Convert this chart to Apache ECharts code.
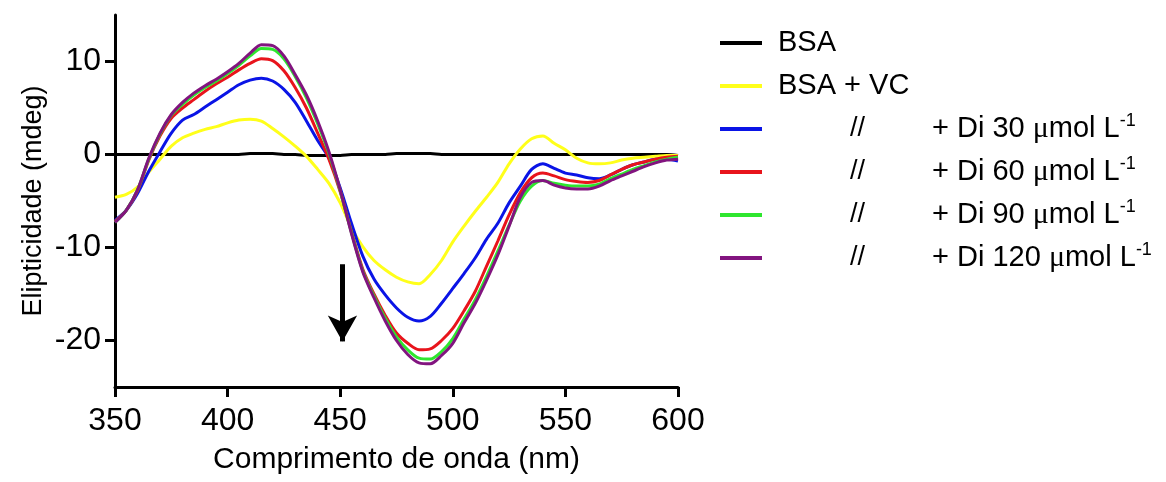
<!DOCTYPE html>
<html>
<head>
<meta charset="utf-8">
<script src="https://cdn.jsdelivr.net/npm/echarts@6/dist/echarts.min.js"></script>
<style>
	html, body { margin: 0; padding: 0; background: #fff; }
	#cd-chart { width: 1166px; height: 482px; }
</style>
</head>
<body>
<div id="cd-chart"></div>
<script>
var wavelength = [350, 355, 360, 365, 370, 375, 380, 385, 390, 395, 400, 405, 410, 415, 420, 425, 430, 435, 440, 445, 450, 455, 460, 465, 470, 475, 480, 485, 490, 495, 500, 505, 510, 515, 520, 525, 530, 535, 540, 545, 550, 555, 560, 565, 570, 575, 580, 585, 590, 595, 600];

var bsa = [0, 0, 0, 0, 0, 0, 0, 0, 0, 0, 0, 0, 0.1, 0.1, 0.1, 0, 0, -0.1, -0.1, -0.1, -0.1, 0, 0, 0, 0, 0.1, 0.1, 0.1, 0.1, 0, 0, 0, 0, 0, 0, 0, 0, 0, 0, 0, 0, 0, 0, 0, 0, 0, 0, 0, 0, 0, -0.1];
var bsaVc = [-4.6, -4.3, -3.5, -1.9, -0.5, 0.9, 1.8, 2.3, 2.7, 3.0, 3.4, 3.7, 3.8, 3.6, 2.8, 1.9, 0.9, -0.2, -1.6, -3.1, -5.2, -7.9, -9.9, -11.4, -12.4, -13.2, -13.7, -13.9, -12.9, -11.4, -9.4, -7.7, -6.1, -4.6, -3.0, -1.0, 0.6, 1.7, 2.0, 1.2, 0.5, -0.4, -0.9, -1.0, -0.9, -0.6, -0.4, -0.3, -0.2, -0.1, -0.1];
var di30 = [-7.1, -6.0, -4.2, -1.8, 0.3, 2.3, 3.7, 4.3, 5.1, 5.9, 6.7, 7.5, 8.0, 8.2, 7.9, 7.0, 5.6, 3.6, 1.5, -0.4, -3.6, -7.4, -10.9, -13.4, -15.1, -16.5, -17.5, -17.9, -17.4, -16.0, -14.4, -12.8, -11.1, -9.1, -7.4, -5.2, -3.4, -1.6, -1.0, -1.5, -2.0, -2.2, -2.5, -2.6, -2.2, -1.6, -1.1, -0.8, -0.5, -0.5, -0.7];
var di60 = [-7.2, -6.0, -3.9, -0.6, 2.0, 3.9, 5.0, 5.9, 6.8, 7.6, 8.3, 9.1, 9.8, 10.3, 10.1, 9.0, 7.2, 5.0, 2.3, -0.5, -4.0, -8.3, -12.3, -15.0, -17.3, -19.2, -20.3, -21.0, -20.9, -20.0, -18.7, -16.8, -14.7, -12.0, -9.3, -6.5, -4.1, -2.5, -2.0, -2.3, -2.7, -2.9, -3.0, -2.8, -2.2, -1.6, -1.1, -0.8, -0.5, -0.3, -0.2];
var di90 = [-7.3, -6.0, -3.8, -0.5, 2.2, 4.2, 5.4, 6.4, 7.2, 7.9, 8.7, 9.6, 10.6, 11.4, 11.3, 10.3, 8.4, 6.1, 3.3, 0.1, -3.9, -8.4, -12.5, -15.2, -17.6, -19.6, -21.0, -21.9, -22.0, -21.2, -19.8, -17.7, -15.6, -13.1, -10.4, -7.6, -5.0, -3.4, -2.8, -3.1, -3.3, -3.4, -3.4, -3.2, -2.6, -2.1, -1.6, -1.2, -0.8, -0.5, -0.3];
var di120 = [-7.3, -6.0, -3.8, -0.4, 2.3, 4.3, 5.6, 6.6, 7.4, 8.1, 8.9, 9.8, 10.9, 11.8, 11.7, 10.6, 8.6, 6.4, 3.6, 0.3, -3.8, -8.5, -12.6, -15.4, -17.9, -20.0, -21.5, -22.4, -22.5, -21.6, -20.3, -18.1, -16.0, -13.5, -10.8, -7.7, -4.6, -3.0, -2.8, -3.3, -3.6, -3.7, -3.7, -3.4, -2.8, -2.3, -1.8, -1.3, -0.9, -0.6, -0.5];

var xTicks = [350, 400, 450, 500, 550, 600];
var yTicks = [-20, -10, 0, 10];

// arrow pointing down, in data units
var arrowX = 451;
var arrowFrom = -11.8;
var arrowTo = -20.1;

var names = ['BSA', 'BSA + VC', 'Di 30', 'Di 60', 'Di 90', 'Di 120'];
var colors = ['#000000', '#ffff1a', '#0a14e6', '#e8141c', '#2ee62e', '#82147f'];
var values = [bsa, bsaVc, di30, di60, di90, di120];

function pairs(arr) {
	var out = [];
	for (var i = 0; i < wavelength.length; i++) {
		out.push([wavelength[i], arr[i]]);
	}
	return out;
}

var series = [];
for (var s = 0; s < names.length; s++) {
	var item = {
		name: names[s],
		type: 'line',
		data: pairs(values[s]),
		smooth: 0.3,
		showSymbol: false,
		symbol: 'none',
		color: colors[s],
		lineStyle: { color: colors[s], width: 3 },
		z: 2 + s
	};
	if (s === 0) {
		item.markLine = {
			silent: true,
			symbol: ['none', 'arrow'],
			symbolSize: [22, 26],
			lineStyle: { color: '#000', width: 5, type: 'solid' },
			label: { show: false },
			data: [[{ coord: [arrowX, arrowFrom] }, { coord: [arrowX, arrowTo] }]]
		};
	}
	series.push(item);
}

var option = {
	animation: false,
	backgroundColor: '#fff',
	grid: { left: 115, right: 488, top: 15, bottom: 95 },
	xAxis: {
		type: 'value',
		min: 350,
		max: 600,
		interval: 50,
		name: 'Comprimento de onda (nm)',
		nameLocation: 'middle',
		nameGap: 58,
		nameTextStyle: { fontFamily: 'Liberation Sans', fontSize: 30, color: '#000' },
		axisLine: { show: true, onZero: false, lineStyle: { color: '#000', width: 3 } },
		axisTick: { show: true, length: 10, customValues: xTicks, lineStyle: { color: '#000', width: 3 } },
		axisLabel: { customValues: xTicks, fontFamily: 'Liberation Sans', fontSize: 32, color: '#000', margin: 18 },
		splitLine: { show: false }
	},
	yAxis: {
		type: 'value',
		min: -25,
		max: 15,
		name: 'Elipticidade (mdeg)',
		nameLocation: 'middle',
		nameGap: 68,
		nameTextStyle: { fontFamily: 'Liberation Sans', fontSize: 27, color: '#000' },
		axisLine: { show: true, lineStyle: { color: '#000', width: 3 } },
		axisTick: { show: true, length: 10, customValues: yTicks, lineStyle: { color: '#000', width: 3 } },
		axisLabel: { customValues: yTicks, fontFamily: 'Liberation Sans', fontSize: 32, color: '#000', margin: 14 },
		splitLine: { show: false }
	},
	legend: {
		orient: 'vertical',
		left: 715,
		top: 21,
		icon: 'rect',
		itemWidth: 42,
		itemHeight: 4,
		itemGap: 9,
		data: names,
		formatter: function(name) {
			if (name === 'BSA' || name === 'BSA + VC') {
				return '{t|' + name + '}';
			}
			var conc = name.replace('Di ', '');
			return '{g|}{sl|//}{t|+ Di ' + conc + ' }{mu|\u03bc}{t|mol L}{sup|-1}';
		},
		textStyle: {
			padding: [0, 0, 0, 11],
			color: '#000',
			fontFamily: 'Liberation Sans',
			fontSize: 29,
			lineHeight: 34,
			rich: {
				t: { fontFamily: 'Liberation Sans', fontSize: 29, lineHeight: 34, color: '#000' },
				g: { width: 72, lineHeight: 34 },
				sl: { width: 82, fontFamily: 'Liberation Sans', fontSize: 27, lineHeight: 34, color: '#000' },
				mu: { fontFamily: 'Liberation Serif', fontSize: 30, lineHeight: 34, color: '#000' },
				sup: { fontFamily: 'Liberation Sans', fontSize: 18, lineHeight: 18, verticalAlign: 'top', color: '#000' }
			}
		}
	},
	series: series
};

var cdChart = echarts.init(document.getElementById('cd-chart'));
cdChart.setOption(option);
</script>
</body>
</html>
